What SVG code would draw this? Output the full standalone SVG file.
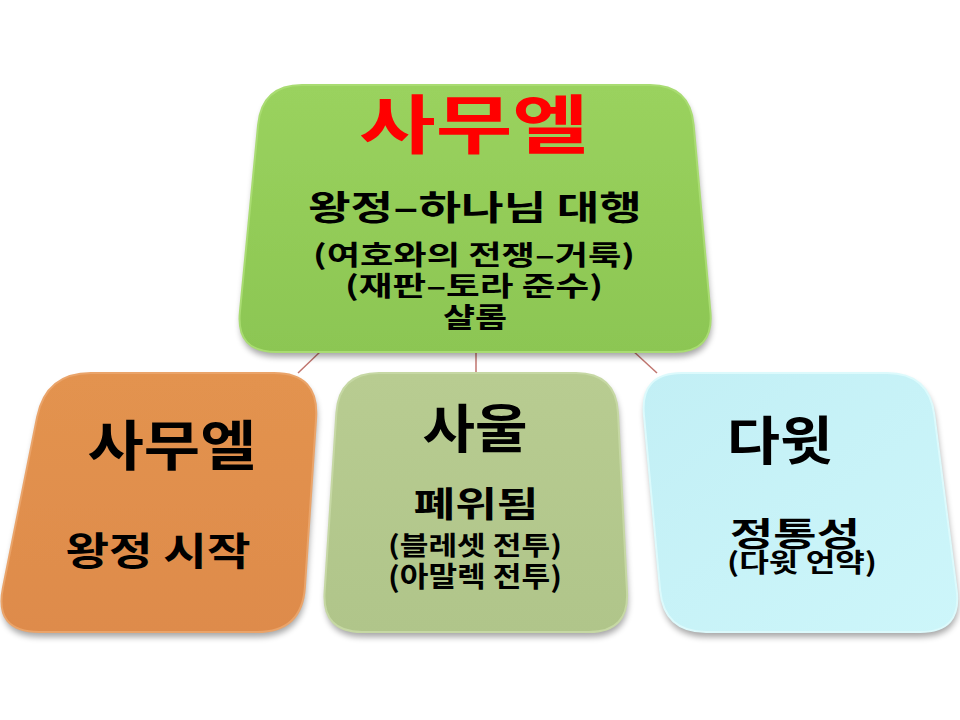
<svg xmlns="http://www.w3.org/2000/svg" width="960" height="720" viewBox="0 0 960 720">
<defs>
<filter id="sh" x="-10%" y="-10%" width="120%" height="125%">
<feGaussianBlur in="SourceAlpha" stdDeviation="3"/>
<feOffset dx="1" dy="5" result="b"/>
<feComponentTransfer><feFuncA type="linear" slope="0.35"/></feComponentTransfer>
<feMerge><feMergeNode/><feMergeNode in="SourceGraphic"/></feMerge>
</filter>
<linearGradient id="gGreen" x1="0" y1="0" x2="0" y2="1">
<stop offset="0" stop-color="#9ad25e"/><stop offset="1" stop-color="#8cc653"/>
</linearGradient>
<linearGradient id="gOrange" x1="0" y1="0" x2="0" y2="1">
<stop offset="0" stop-color="#e3934f"/><stop offset="1" stop-color="#de8b4b"/>
</linearGradient>
<linearGradient id="gOlive" x1="0" y1="0" x2="0" y2="1">
<stop offset="0" stop-color="#b8cc91"/><stop offset="1" stop-color="#b0c58a"/>
</linearGradient>
<linearGradient id="gCyan" x1="0" y1="0" x2="1" y2="1">
<stop offset="0" stop-color="#c2eff5"/><stop offset="1" stop-color="#cdf6fa"/>
</linearGradient>
</defs>
<style>
.t{font-family:"Noto Sans CJK KR","Noto Sans CJK SC",sans-serif;font-weight:bold;text-anchor:middle;fill:#000}
.red{fill:#ff0000}
.conn line{stroke:#c0756e;stroke-width:1.5}
.edge{stroke-width:2;fill:none}
</style>
<g id="connectors" class="conn">
<line x1="322" y1="350" x2="298" y2="373"/>
<line x1="476" y1="350" x2="476" y2="374"/>
<line x1="632" y1="350" x2="657" y2="373"/>
</g>
<g id="node-top">
<path filter="url(#sh)" fill="url(#gGreen)" d="M302,85 L650,85 Q690,85 693.6,124.8 L710.4,312.2 Q714,352 674,352 L276,352 Q236,352 239.9,312.2 L258.1,124.8 Q262,85 302,85 Z"/>
<path class="edge" stroke="#a9dc72" d="M302,85 L650,85 Q690,85 693.6,124.8 L710.4,312.2 Q714,352 674,352 L276,352 Q236,352 239.9,312.2 L258.1,124.8 Q262,85 302,85 Z"/>
<text class="t red" x="474" y="148" font-size="64" textLength="230" lengthAdjust="spacingAndGlyphs">사무엘</text>
<text class="t" x="475" y="220" font-size="34" textLength="334" lengthAdjust="spacingAndGlyphs">왕정–하나님 대행</text>
<text class="t" font-size="27"><tspan x="474" y="265" textLength="322" lengthAdjust="spacingAndGlyphs">(여호와의 전쟁–거룩)</tspan><tspan x="474" y="296" textLength="258" lengthAdjust="spacingAndGlyphs">(재판–토라 준수)</tspan><tspan x="475" y="328" font-size="28" textLength="64" lengthAdjust="spacingAndGlyphs">샬롬</tspan></text>
</g>
<g id="node-samuel">
<path filter="url(#sh)" fill="url(#gOrange)" d="M91,373 L274,373 Q319,373 316.1,417.9 L304.9,587.1 Q302,632 257,632 L39,632 Q-6,632 2.9,587.9 L37.1,417.1 Q46,373 91,373 Z"/>
<path class="edge" stroke="#eaa46a" d="M91,373 L274,373 Q319,373 316.1,417.9 L304.9,587.1 Q302,632 257,632 L39,632 Q-6,632 2.9,587.9 L37.1,417.1 Q46,373 91,373 Z"/>
<text class="t" x="172" y="466" font-size="54" textLength="169" lengthAdjust="spacingAndGlyphs">사무엘</text>
<text class="t" x="158" y="565" font-size="39" textLength="185" lengthAdjust="spacingAndGlyphs">왕정 시작</text>
</g>
<g id="node-saul">
<path filter="url(#sh)" fill="url(#gOlive)" d="M379,373 L576,373 Q616,373 618,413 L627,592 Q629,632 589,632 L362,632 Q322,632 324.6,592.1 L336.4,412.9 Q339,373 379,373 Z"/>
<path class="edge" stroke="#c6d8a4" d="M379,373 L576,373 Q616,373 618,413 L627,592 Q629,632 589,632 L362,632 Q322,632 324.6,592.1 L336.4,412.9 Q339,373 379,373 Z"/>
<text class="t" x="475" y="448" font-size="52" textLength="105" lengthAdjust="spacingAndGlyphs">사울</text>
<text class="t" font-size="26"><tspan x="476" y="517" font-size="35" textLength="125" lengthAdjust="spacingAndGlyphs">폐위됨</tspan><tspan x="475" y="555" textLength="174" lengthAdjust="spacingAndGlyphs">(블레셋 전투)</tspan><tspan x="475" y="587" font-size="28" textLength="174" lengthAdjust="spacingAndGlyphs">(아말렉 전투)</tspan></text>
</g>
<g id="node-david">
<path filter="url(#sh)" fill="url(#gCyan)" d="M682,373 L887,373 Q929,373 934.3,414.7 L956.7,590.3 Q962,632 920,632 L706,632 Q664,632 660.1,590.2 L643.9,414.8 Q640,373 682,373 Z"/>
<path class="edge" stroke="#dcfafc" d="M682,373 L887,373 Q929,373 934.3,414.7 L956.7,590.3 Q962,632 920,632 L706,632 Q664,632 660.1,590.2 L643.9,414.8 Q640,373 682,373 Z"/>
<text class="t" x="780" y="460" font-size="52" textLength="106" lengthAdjust="spacingAndGlyphs">다윗</text>
<text class="t" font-size="26"><tspan x="795" y="546" font-size="33" textLength="130" lengthAdjust="spacingAndGlyphs">정통성</tspan><tspan x="802" y="572" textLength="150" lengthAdjust="spacingAndGlyphs">(다윗 언약)</tspan></text>
</g>
</svg>
